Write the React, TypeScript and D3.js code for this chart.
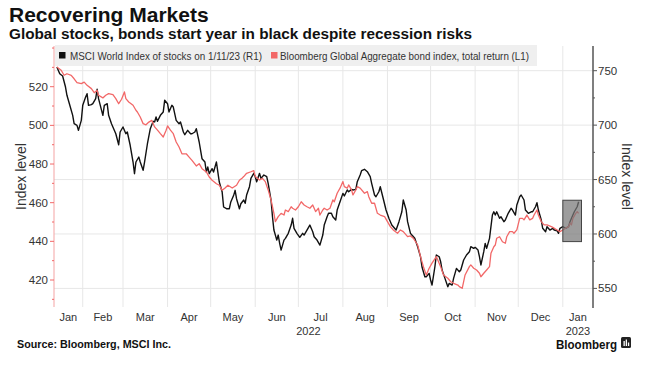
import React from "react";
import * as d3 from "d3";

// days since 1 Jan 2022
const stockDays = [
  13, 15, 17, 19, 20, 22, 24, 25, 27, 28, 30, 31, 33, 34, 35, 37, 38, 40, 41, 42, 45, 46, 48, 49, 51, 54, 56, 57, 59, 61,
  62, 64, 66, 67, 68, 70, 71, 73, 74, 76, 78, 80, 81, 82, 83, 85, 87, 88, 90, 91, 93, 94, 96, 98, 99, 101, 102, 104, 106,
  107, 109, 110, 112, 114, 116, 117, 118, 119, 121, 122, 124, 125, 126, 128, 129, 131, 133, 134, 136, 137, 138, 140, 141,
  143, 144, 145, 147, 148, 150, 151, 152, 154, 155, 157, 159, 160, 162, 163, 164, 166, 167, 168, 169, 171, 172, 174, 176,
  177, 178, 180, 182, 184, 185, 187, 189, 191, 192, 194, 196, 198, 199, 201, 202, 204, 205, 207, 208, 210, 212, 213, 215,
  216, 218, 219, 221, 222, 224, 225, 227, 229, 231, 232, 234, 235, 237, 238, 240, 242, 244, 246, 249, 251, 253, 254, 256,
  257, 259, 260, 262, 264, 266, 267, 269, 270, 272, 273, 274, 276, 277, 279, 280, 281, 283, 285, 286, 288, 289, 291, 293,
  294, 296, 298, 300, 301, 303, 304, 306, 307, 308, 310, 311, 312, 314, 315, 316, 317, 318, 319, 321, 322, 324, 325, 327,
  329, 330, 332, 333, 335, 336, 338, 339, 341, 343, 344, 346, 347, 348, 350, 351, 353, 354, 356, 358, 359, 361, 362, 363,
  365, 367, 369, 370, 372, 373, 375, 376,
];
// MSCI World Index (right axis)
const stockValues = [
  753.4, 747.2, 745.1, 735.0, 727.4, 718.2, 709.0, 701.3, 699.8, 695.2, 704.4, 718.2, 725.8, 728.9, 718.2, 718.8, 719.7,
  724.3, 732.9, 724.3, 709.0, 718.2, 719.7, 709.0, 701.3, 692.1, 682.0, 693.7, 698.3, 692.1, 693.7, 681.5, 666.1, 655.4,
  666.1, 670.7, 666.1, 658.5, 666.1, 682.9, 696.7, 703.5, 702.9, 707.5, 703.5, 709.0, 712.1, 722.8, 719.7, 712.1, 718.2,
  716.6, 704.4, 701.3, 702.9, 693.7, 691.2, 695.2, 692.1, 692.1, 693.7, 696.7, 684.5, 669.1, 666.1, 656.9, 661.5, 655.4,
  660.0, 656.9, 666.1, 656.9, 647.7, 638.5, 624.8, 623.2, 623.2, 629.4, 635.5, 640.1, 632.4, 623.2, 627.8, 631.2, 628.2,
  635.8, 643.4, 651.1, 655.7, 652.6, 648.0, 655.7, 651.1, 654.2, 652.6, 646.5, 631.2, 615.8, 603.6, 594.4, 599.0, 591.4,
  585.2, 594.4, 596.0, 600.6, 608.2, 614.4, 605.2, 600.6, 596.9, 600.6, 599.0, 603.6, 608.2, 602.1, 597.5, 594.4, 589.8,
  599.0, 608.2, 615.8, 619.0, 619.0, 615.8, 612.8, 622.0, 629.6, 637.3, 634.9, 640.4, 638.8, 641.0, 640.4, 641.0, 648.0,
  654.2, 658.1, 659.4, 657.2, 652.6, 646.5, 635.8, 634.2, 638.8, 643.4, 632.8, 622.0, 614.4, 608.2, 603.6, 611.3, 620.4,
  631.2, 622.0, 611.3, 600.6, 599.0, 596.0, 588.3, 579.1, 569.9, 560.7, 560.7, 563.8, 557.7, 553.1, 569.9, 580.7, 579.1,
  574.5, 566.9, 559.2, 551.5, 554.6, 553.1, 559.2, 568.4, 565.3, 566.9, 576.1, 580.7, 583.7, 588.3, 586.8, 587.7, 585.2,
  579.1, 571.5, 583.7, 591.4, 586.8, 596.0, 606.7, 617.4, 620.4, 617.4, 620.4, 614.4, 615.8, 611.3, 612.8, 619.0, 623.6,
  622.0, 617.4, 626.6, 634.2, 635.8, 631.2, 622.0, 619.0, 620.4, 620.4, 625.0, 628.7, 622.0, 612.8, 605.2, 602.1, 606.7,
  603.6, 605.2, 603.6, 603.0, 600.6, 605.2, 606.7, 605.2, 606.7, 611.3, 617.4, 620.4, 625.0, 629.6,
];

const bondDays = [
  13, 16, 18, 20, 23, 25, 27, 30, 32, 34, 37, 39, 41, 42, 45, 47, 49, 52, 54, 56, 58, 60, 61, 63, 66, 68, 69, 71, 73, 75,
  77, 79, 81, 83, 85, 87, 89, 90, 92, 94, 96, 98, 100, 103, 105, 107, 110, 112, 114, 117, 119, 121, 124, 126, 128, 130,
  132, 135, 138, 140, 142, 143, 145, 148, 150, 151, 154, 156, 158, 160, 162, 164, 165, 167, 169, 171, 172, 174, 176, 177,
  179, 181, 183, 185, 187, 189, 191, 193, 195, 196, 198, 199, 201, 203, 205, 206, 208, 210, 212, 213, 215, 216, 218, 219,
  221, 222, 224, 227, 229, 230, 232, 234, 236, 238, 241, 243, 245, 247, 250, 252, 254, 257, 259, 261, 264, 266, 268, 270,
  272, 274, 277, 278, 280, 282, 285, 287, 289, 292, 293, 295, 297, 300, 301, 303, 305, 307, 308, 310, 312, 314, 315, 317,
  318, 319, 321, 323, 325, 326, 328, 330, 331, 333, 335, 337, 338, 340, 342, 344, 345, 347, 348, 350, 352, 354, 357, 359,
  361, 363, 365, 367, 369, 370, 371, 372, 374, 375, 376,
];
// Bloomberg Global Aggregate, total return (left axis)
const bondValues = [
  530.2, 528.5, 525.9, 526.7, 525.9, 524.1, 522.1, 521.6, 522.4, 520.7, 519.0, 516.9, 518.1, 515.6, 514.2, 515.6, 516.4,
  515.9, 513.8, 511.2, 513.5, 517.3, 513.8, 512.1, 510.4, 507.8, 506.9, 504.3, 500.9, 500.3, 501.7, 502.6, 499.2, 497.5,
  495.7, 494.0, 497.5, 499.7, 497.5, 495.7, 491.4, 488.8, 485.3, 485.3, 483.6, 481.9, 479.0, 480.2, 477.6, 475.9, 473.3,
  471.6, 469.8, 469.0, 466.4, 467.6, 469.0, 467.6, 469.0, 471.6, 472.8, 473.5, 475.2, 476.0, 476.6, 473.5, 471.7, 472.6,
  470.9, 466.6, 461.4, 454.5, 450.2, 452.8, 454.5, 453.6, 456.2, 455.4, 457.9, 457.1, 456.2, 457.9, 460.5, 458.8, 457.9,
  457.1, 458.8, 455.4, 457.1, 453.6, 456.2, 457.1, 456.2, 457.1, 461.4, 460.5, 464.9, 467.5, 470.9, 468.3, 467.5, 469.2,
  466.6, 464.0, 466.6, 468.3, 467.5, 464.9, 465.7, 463.1, 459.7, 459.7, 454.5, 453.6, 452.8, 450.2, 447.6, 445.9, 444.2,
  445.9, 445.0, 442.4, 442.8, 441.6, 438.1, 432.1, 426.9, 422.6, 426.1, 428.7, 432.1, 430.4, 426.9, 422.6, 420.9, 419.1,
  418.3, 417.4, 416.6, 415.7, 422.6, 426.9, 427.8, 426.1, 425.2, 423.5, 421.7, 423.5, 425.2, 426.9, 433.8, 437.2, 438.1,
  441.6, 442.4, 439.8, 439.0, 442.4, 445.0, 445.0, 444.2, 445.9, 451.9, 451.9, 451.1, 453.6, 451.1, 451.9, 453.6, 456.2,
  453.6, 450.2, 448.5, 448.5, 447.6, 446.8, 445.9, 445.0, 445.9, 446.8, 447.6, 449.4, 448.5, 451.9, 454.5, 455.4, 454.5,
];

const leftTicks = [420, 440, 460, 480, 500, 520];
const leftMinor = [410, 430, 450, 470, 490, 510, 530, 540];
const rightTicks = [550, 600, 650, 700, 750];
const rightMinor = [575, 625, 675, 725];
const monthLabels = ["Jan", "Feb", "Mar", "Apr", "May", "Jun", "Jul", "Aug", "Sep", "Oct", "Nov", "Dec", "Jan"];
const yearLabels = ["2022", "2023"];

// highlight box: 1 Jan – 13 Jan 2023, right-axis range
const boxDays = [365, 378];
const boxValues = [593, 631];

const t0 = new Date(2022, 0, 1);
const day = (d: number) => d3.timeDay.offset(t0, d);

const plot = { left: 54, right: 593, top: 46, bottom: 307 };
const sans = "'Liberation Sans', Arial, sans-serif";
const red = "#f26868";

export default function App() {
  const x = d3.scaleTime().domain([new Date(2022, 0, 12), new Date(2023, 0, 22)]).range([plot.left, plot.right]);
  const yL = d3.scaleLinear().domain([420, 520]).range([280, 86.7]);
  const yR = d3.scaleLinear().domain([550, 750]).range([288.4, 70.7]);

  const stockLine = d3
    .line<number>()
    .x((d, i) => x(day(stockDays[i])))
    .y((d) => yR(d));
  const bondLine = d3
    .line<number>()
    .x((d, i) => x(day(bondDays[i])))
    .y((d) => yL(d));

  const [d0, d1] = x.domain();
  const months = d3.timeMonth.range(new Date(2022, 0, 1), new Date(2023, 1, 1));
  const monthPos = months.map((m) => {
    const a = Math.max(+m, +d0);
    const b = Math.min(+d3.timeMonth.offset(m, 1), +d1);
    return (x(new Date(a)) + x(new Date(b))) / 2;
  });
  const gridMonths = months.filter((m) => x(m) > plot.left + 1 && x(m) < plot.right - 1);
  const yearStart = x(new Date(2023, 0, 1));
  const yearPos = [(plot.left + yearStart) / 2, (yearStart + plot.right) / 2];

  return (
    <svg width={650} height={373} style={{ position: "absolute", left: 0, top: 0, background: "#fff" }}>
      <text x={9} y={22} fontFamily={sans} fontWeight="bold" fontSize={21} fill="#111">
        Recovering Markets
      </text>
      <text x={9} y={39} fontFamily={sans} fontWeight="bold" fontSize={14} textLength={463} lengthAdjust="spacingAndGlyphs" fill="#111">
        Global stocks, bonds start year in black despite recession risks
      </text>

      {/* grid */}
      <g stroke="#e7e7e7" strokeWidth={1}>
        {gridMonths.map((m, i) => (
          <line key={i} x1={x(m)} x2={x(m)} y1={plot.top} y2={plot.bottom} />
        ))}
        {rightTicks.map((t) => (
          <line key={t} x1={plot.left} x2={plot.right} y1={yR(t)} y2={yR(t)} />
        ))}
      </g>

      {/* lines */}
      <path d={stockLine(stockValues) || ""} fill="none" stroke="#111" strokeWidth={1.4} strokeLinejoin="round" />
      <path d={bondLine(bondValues) || ""} fill="none" stroke={red} strokeWidth={1.3} strokeLinejoin="round" />
      <rect
        x={x(day(boxDays[0]))}
        y={yR(boxValues[1])}
        width={x(day(boxDays[1])) - x(day(boxDays[0]))}
        height={yR(boxValues[0]) - yR(boxValues[1])}
        fill="#777"
        fillOpacity={0.72}
        stroke="#444"
        strokeWidth={1}
      />

      {/* legend */}
      <rect x={55} y={45} width={482} height={21} fill="#efefef" />
      <rect x={59} y={52} width={6.5} height={6.5} fill="#111" />
      <text x={70} y={59.5} fontFamily={sans} fontSize={10.5} textLength={192} lengthAdjust="spacingAndGlyphs" fill="#333">
        MSCI World Index of stocks on 1/11/23 (R1)
      </text>
      <rect x={271} y={52} width={6.5} height={6.5} fill={red} />
      <text x={280} y={59.5} fontFamily={sans} fontSize={10.5} textLength={249} lengthAdjust="spacingAndGlyphs" fill="#333">
        Bloomberg Global Aggregate bond index, total return (L1)
      </text>

      {/* left axis */}
      <line x1={plot.left} x2={plot.left} y1={plot.top} y2={plot.bottom} stroke="#f4a3a3" strokeWidth={1} />
      {leftMinor.map((t) => (
        <line key={t} x1={plot.left - 2} x2={plot.left} y1={yL(t)} y2={yL(t)} stroke={red} />
      ))}
      {leftTicks.map((t) => (
        <g key={t}>
          <line x1={plot.left - 4} x2={plot.left} y1={yL(t)} y2={yL(t)} stroke={red} />
          <text x={plot.left - 6} y={yL(t) + 4} textAnchor="end" fontFamily={sans} fontSize={11.5} fill="#333">
            {t}
          </text>
        </g>
      ))}
      <text
        transform={`translate(26,${(plot.top + plot.bottom) / 2}) rotate(-90)`}
        textAnchor="middle"
        fontFamily={sans}
        fontSize={14}
        fill="#333"
      >
        Index level
      </text>

      {/* right axis */}
      <line x1={plot.right} x2={plot.right} y1={plot.top} y2={plot.bottom + 1} stroke="#555" strokeWidth={1.5} />
      {rightMinor.map((t) => (
        <line key={t} x1={plot.right} x2={plot.right + 2} y1={yR(t)} y2={yR(t)} stroke="#555" />
      ))}
      {rightTicks.map((t) => (
        <g key={t}>
          <line x1={plot.right} x2={plot.right + 4} y1={yR(t)} y2={yR(t)} stroke="#555" />
          <text x={plot.right + 5} y={yR(t) + 4} fontFamily={sans} fontSize={11.5} fill="#333">
            {t}
          </text>
        </g>
      ))}
      <text
        transform={`translate(622,${(plot.top + plot.bottom) / 2}) rotate(90)`}
        textAnchor="middle"
        fontFamily={sans}
        fontSize={14}
        fill="#333"
      >
        Index level
      </text>

      {/* x axis labels */}
      {monthLabels.map((m, i) => (
        <text key={i} x={monthPos[i]} y={320.5} textAnchor="middle" fontFamily={sans} fontSize={11} fill="#333">
          {m}
        </text>
      ))}
      {yearLabels.map((yl, i) => (
        <text key={yl} x={yearPos[i]} y={334.5} textAnchor="middle" fontFamily={sans} fontSize={11} fill="#333">
          {yl}
        </text>
      ))}

      {/* footer */}
      <text x={17} y={348} fontFamily={sans} fontWeight="bold" fontSize={10} textLength={154} lengthAdjust="spacingAndGlyphs" fill="#111">
        Source: Bloomberg, MSCI Inc.
      </text>
      <text x={556} y={348.5} fontFamily={sans} fontWeight="bold" fontSize={12.5} textLength={61} lengthAdjust="spacingAndGlyphs" fill="#111">
        Bloomberg
      </text>
      <rect x={621} y={337} width={10} height={11} rx={1.5} fill="#222" />
      <rect x={623.5} y={341} width={1.3} height={5} fill="#fff" />
      <rect x={625.7} y={339.5} width={1.3} height={6.5} fill="#fff" />
      <rect x={627.9} y={342.5} width={1.3} height={3.5} fill="#fff" />
    </svg>
  );
}
